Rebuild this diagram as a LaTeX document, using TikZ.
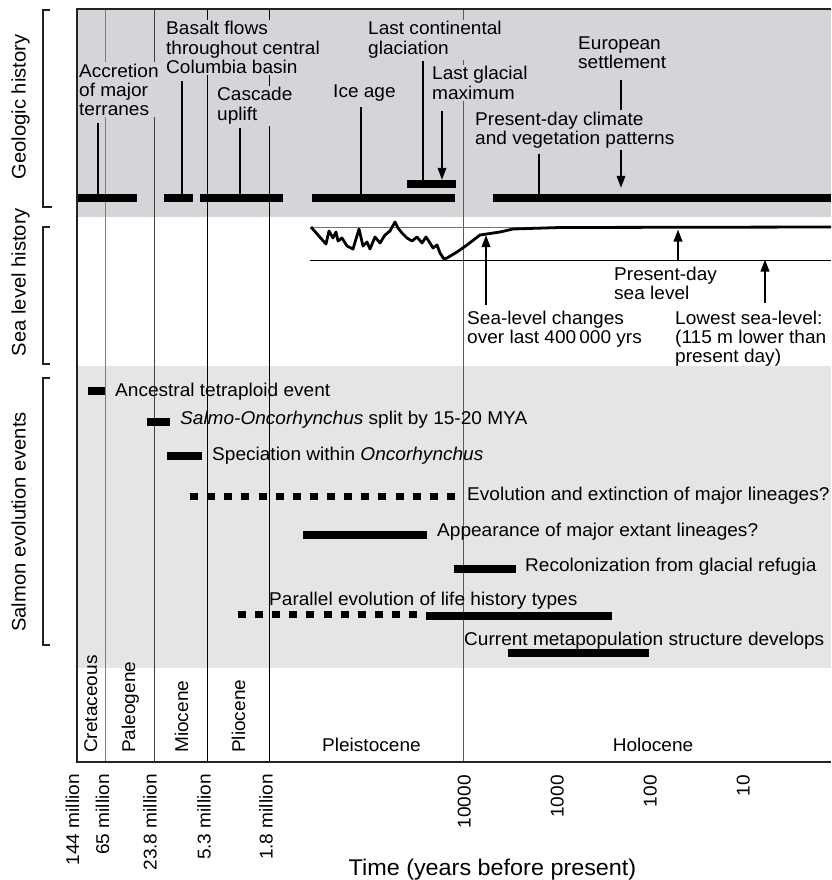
\documentclass[tikz,border=0pt]{standalone}
\usepackage{fontspec}
\setmainfont{Liberation Sans}
\newfontfamily\hfont[FakeStretch=1.03]{Liberation Sans}
\usetikzlibrary{arrows.meta}
\definecolor{geogray}{RGB}{212,213,216}
\definecolor{salgray}{RGB}{228,229,231}
\definecolor{framec}{RGB}{35,35,35}
\definecolor{epgray}{RGB}{125,125,125}
\newcommand{\lns}[1]{\vtop{\halign{##\hfil\cr#1\crcr}}}
\tikzset{
 txt/.style={font=\hfont\fontsize{18.5}{19.2}\selectfont, inner xsep=1pt, inner ysep=1.5pt, anchor=base west},
 geolab/.style={txt, fill=geogray},
 rot/.style={font=\hfont\fontsize{18.5}{19}\selectfont, rotate=90, inner sep=0pt},
 side/.style={rot, font=\hfont\fontsize{19.6}{20}\selectfont},
 bar/.style={fill=black, draw=none, inner sep=0pt, minimum height=8pt},
 stem/.style={line width=2pt},
 arr/.style={line width=2pt, -{Triangle[length=12pt,width=8.5pt]}},
 dots/.style={line width=7.5pt, dash pattern=on 8pt off 9.13pt},
 ep/.style={line width=1pt},
 brk/.style={line width=1.8pt, framec},
 frame/.style={line width=2.4pt, framec},
}
\begin{document}
\begin{tikzpicture}[x=1pt,y=-1pt]
\useasboundingbox (0,0) rectangle (831,880);
\fill[white] (0,0) rectangle (831,880);
% background bands
\fill[geogray] (77,9) rectangle (831,217);
\fill[salgray] (77,366) rectangle (831,668);
% epoch boundary lines
\draw[ep, epgray] (105,9) -- (105,762);
\draw[ep, black!75] (154,9) -- (154,762);
\draw[ep, black] (207,9) -- (207,762);
\draw[ep, black] (269,9) -- (269,762);
\draw[ep, black!65] (463,9) -- (463,762);
% geologic bars
\node[bar, minimum width=60pt] (b1) at (107,198) {};
\node[bar, minimum width=29pt] (b2) at (178.5,198) {};
\node[bar, minimum width=83pt] (b3) at (241.5,198) {};
\node[bar, minimum width=143pt] (b4) at (383.5,198) {};
\node[bar, minimum width=49pt] (b5) at (431.5,184) {};
\node[bar, minimum width=338pt] (b6) at (662,198) {};
% geologic labels
\node[geolab] (acc) at (78,77.3) {\lns{Accretion\cr of major\cr terranes}};
\node[geolab] (bas) at (165,35) {\lns{Basalt flows\cr throughout central\cr Columbia basin}};
\node[geolab] (cas) at (216,101) {\lns{Cascade\cr uplift}};
\node[geolab] (ice) at (332,97.7) {Ice age};
\node[geolab] (lcg) at (367,35) {\lns{Last continental\cr glaciation}};
\node[geolab] (lgm) at (431,80) {\lns{Last glacial\cr maximum}};
\node[geolab] (eur) at (577,49.3) {\lns{European\cr settlement}};
\draw[arr, shorten <=10pt, shorten >=6pt] (eur.south -| 621,0) -- (b6.north -| 621,0);
\node[geolab] (pdc) at (474,125) {\lns{Present-day climate\cr and vegetation patterns}};
% stems
\draw[stem, shorten <=5pt] (acc.south -| 98,0) -- (b1.center -| 98,0);
\draw[stem, shorten <=5.5pt] (bas.south -| 182,0) -- (b2.center -| 182,0);
\draw[stem, shorten <=2pt] (cas.south -| 240,0) -- (b3.center -| 240,0);
\draw[stem, shorten <=4pt] (ice.south -| 361,0) -- (b4.center -| 361,0);
\draw[stem, shorten <=1pt] (lcg.south -| 423,0) -- (b5.center -| 423,0);
\draw[arr, shorten <=9.5pt] (lgm.south -| 442,0) -- (b5.north -| 442,0);
\draw[stem, shorten <=4pt] (pdc.south -| 539,0) -- (b6.center -| 539,0);
% sea level section
\draw[line width=0.8pt, black!55] (310,227) -- (831,227);
\draw[line width=0.9pt] (310,260) -- (831,260);
\draw[line width=2.8pt, line join=round] (311,227) -- (318,235) -- (326,244) -- (329,231) -- (333,238) -- (336,232) -- (338,241) -- (342,238) -- (347,246) -- (353,249) -- (359,229) -- (363,246) -- (367,242) -- (370,249) -- (375,237) -- (380,243) -- (385,235) -- (390,231) -- (395,222) -- (398,228) -- (402,233) -- (407,238) -- (412,241) -- (417,237) -- (422,243) -- (426,237) -- (430,243) -- (433,248) -- (437,245) -- (440,253) -- (444,259) -- (447,258) -- (457,252) -- (467,245) -- (480,235) -- (500,232) -- (513,229) -- (560,227.5) -- (831,227);
\coordinate (slt) at (486,235);
\coordinate (pdt) at (678,229.5);
\coordinate (lwt) at (765,259.5);
\node[txt] (slc) at (466,324) {\lns{Sea-level changes\cr over last 400\,000 yrs}};
\node[txt] (pds) at (613,280.7) {\lns{Present-day\cr sea level}};
\node[txt] (low) at (674,324) {\lns{Lowest sea-level:\cr (115 m lower than\cr present day)}};
\draw[arr, shorten <=4pt] (slc.north -| 486,0) -- (slt);
\draw[arr, shorten <=4.5pt] (pds.north -| 678,0) -- (pdt);
\draw[arr, shorten <=6pt] (low.north -| 765,0) -- (lwt);
% salmon evolution events
\node[bar, minimum width=17pt] (s1) at (96.5,391) {};
\node[bar, minimum width=23pt] (s2) at (158.5,422) {};
\node[bar, minimum width=35pt] (s3) at (184.5,455.5) {};
\draw[dots] (190,496.3) -- (455,496.3);
\node[bar, minimum width=124pt] (s5) at (365,535) {};
\node[bar, minimum width=62pt] (s6) at (485,569) {};
\draw[dots, dash pattern=on 8pt off 9.1pt] (238,614.5) -- (417,614.5);
\node[bar, minimum width=186pt] (s8) at (519,616) {};
\node[bar, minimum width=141pt] (s9) at (578.5,653) {};
\node[txt] (t1) at (114,396) {Ancestral tetraploid event};
\node[txt] (t2) at (179,424) {\textit{Salmo-Oncorhynchus} split by 15-20 MYA};
\node[txt] (t3) at (211,460) {Speciation within \textit{Oncorhynchus}};
\node[txt] (t4) at (466,500) {Evolution and extinction of major lineages?};
\node[txt] (t5) at (436,536.7) {Appearance of major extant lineages?};
\node[txt] (t6) at (524,571.7) {Recolonization from glacial refugia};
\node[txt] (t7) at (268,605.5) {Parallel evolution of life history types};
\node[txt] (t8) at (463,645) {Current metapopulation structure develops};
% epochs
\node[rot, anchor=base west] (cre) at (97,753) {Cretaceous};
\node[rot, anchor=base west] (pal) at (135,753) {Paleogene};
\node[rot, anchor=base west] (mio) at (188,753) {Miocene};
\node[rot, anchor=base west] (pli) at (245,753) {Pliocene};
\node[txt] (ple) at (321,751) {Pleistocene};
\node[txt, anchor=base] (hol) at (653,751) {Holocene};
% frame
\draw[frame] (831,9) -- (77,9) -- (77,762) -- (831,762);
% brackets and side labels
\draw[brk] (50,10) -- (43,10) -- (43,207) -- (52,207);
\draw[brk] (50,227) -- (43,227) -- (43,364) -- (50,364);
\draw[brk] (50,378) -- (43,378) -- (43,645) -- (50,645);
\node[side, anchor=base] (gh) at (25.5,107) {Geologic history};
\node[side, anchor=base] (sh) at (25.5,282) {Sea level history};
\node[side, anchor=base] (se) at (25.5,522) {Salmon evolution events};
% time axis labels
\node[rot, anchor=base east] (a1) at (79,774) {144 million};
\node[rot, anchor=base east] (a2) at (109,774) {65 million};
\node[rot, anchor=base east] (a3) at (156.5,774) {23.8 million};
\node[rot, anchor=base east] (a4) at (210.5,774) {5.3 million};
\node[rot, anchor=base east] (a5) at (272.5,774) {1.8 million};
\node[rot, anchor=base east] (a6) at (470.5,775) {10000};
\node[rot, anchor=base east] (a7) at (563.5,775) {1000};
\node[rot, anchor=base east] (a8) at (656.5,775) {100};
\node[rot, anchor=base east] (a9) at (749.5,775) {10};
\node[font=\hfont\fontsize{22.7}{26}\selectfont, anchor=base, inner sep=0pt] (ttl) at (492.5,875) {Time (years before present)};
\end{tikzpicture}
\end{document}
